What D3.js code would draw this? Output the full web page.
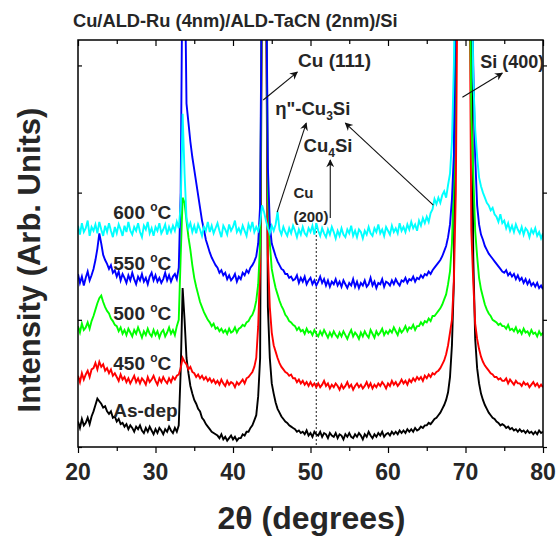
<!DOCTYPE html>
<meta charset="utf-8">
<head>
<style>
body { margin: 0; background: #fff; }
svg text { font-family: "Liberation Sans", Arial, sans-serif; font-weight: bold; fill: #262626; }
.trace { fill: none; stroke-width: 1.9; }
.axis path { display: none; }
.axis line { stroke: #000; stroke-width: 1.2; }
.frame { fill: none; stroke: #000; stroke-width: 1.5; }
.note { stroke: #111; stroke-width: 1.1; fill: none; }
</style>
</head>
<body>
<script src="https://cdn.jsdelivr.net/npm/d3@7"></script>
<script>

// XRD scan, 2theta from 20 to 80 deg in 0.25 deg steps (241 points per pattern)
var scanStart = 20, scanStep = 0.25;

// intensities (arb. units, offset patterns already stacked)
var asDep = [
20,15,22,17, 19,23,18,24, 28,33,38,36, 34,31,32,28, 26,28,23,24,   // 20-24
20,22,18,19, 16,18,14,17, 15,12,16,14, 17,13,11,15, 12,16,13,10,   // 25-29
14,11,15,13, 10,14,12,16, 13,11,15,12, 17,60,125,100, 70,58,48,42, // 30-34
37,34,30,28, 23,21,18,16, 14,12,11,10, 9,7,10,6, 8,5,7,9,          // 35-39
6,8,5,7, 7,10,9,12, 12,15,17,21, 25,40,70,400, 400,400,110,70,     // 40-44
50,42,35,30, 27,24,22,20, 19,17,16,15, 14,12,13,11, 12,10,13,9,    // 45-49
11,8,12,10, 9,12,8,11, 10,7,11,9, 8,11,7,10, 9,6,10,8,             // 50-54
11,8,7,10, 8,11,9,6, 10,8,12,9, 7,10,8,11, 9,12,8,10,              // 55-59
11,9,12,10, 12,10,13,11, 13,11,14,12, 14,12,15,13, 14,16,15,17,    // 60-64
17,19,18,20, 22,23,25,27, 30,33,37,43, 55,80,130,400, 400,400,400,400, // 65-69
400,400,400,400, 150,85,62,50, 42,37,33,30, 27,25,23,22, 20,19,17,18,  // 70-74
17,15,16,14, 15,13,14,12, 14,12,13,11, 13,11,12,10, 12,10,13,11,   // 75-79
12                                                                  // 80
];

var t450 = [
56,51,58,53, 57,60,55,61, 62,66,61,67, 63,65,60,62, 58,61,56,58,
55,52,57,53, 55,51,54,50, 53,56,51,54, 50,54,52,49, 55,51,53,56,
52,49,54,51, 55,52,50,54, 51,55,53,56, 57,62,70,67, 65,61,63,59,
58,55,57,54, 56,53,55,52, 54,51,53,50, 52,49,53,50, 48,52,49,51,
50,47,51,49, 51,53,50,54, 55,57,59,63, 70,95,140,400, 400,400,150,110,
90,80,75,70, 66,63,61,59, 58,56,57,54, 54,51,53,50, 52,49,51,48,
51,48,50,47, 50,47,49,52, 48,50,46,49, 47,50,48,45, 49,46,48,51,
47,49,45,48, 50,47,49,46, 48,51,47,50, 46,49,47,50, 48,51,49,46,
50,48,52,49, 51,48,50,53, 50,52,49,53, 51,54,52,55, 53,55,52,56,
54,57,55,58, 57,59,60,62, 65,68,73,80, 90,100,130,200, 400,400,400,400,
400,400,400,170, 130,97,85,77, 71,67,64,62, 60,58,57,55, 55,53,54,52,
52,54,50,53, 51,49,52,50, 50,48,51,49, 50,47,49,51, 48,50,47,49,
47
];

var t500 = [
95,90,97,92, 94,98,93,99, 103,108,113,117, 119,114,110,107, 105,101,99,96,
95,91,94,89, 92,88,93,90, 87,92,89,94, 90,86,91,88, 93,89,87,92,
88,91,86,90, 92,87,90,94, 89,92,88,95, 100,150,196,192, 178,165,155,143,
133,126,120,114, 110,106,103,100, 98,95,97,93, 94,91,93,90, 92,89,93,90,
91,94,90,93, 94,96,95,98, 99,102,104,108, 115,128,160,400, 400,400,200,160,
140,132,125,120, 115,111,108,104, 102,99,98,96, 95,92,94,91, 92,89,93,90,
91,88,92,89, 87,91,88,92, 89,86,90,87, 91,88,86,90, 87,91,88,85,
89,92,87,90, 88,85,90,87, 91,88,86,92, 89,86,91,88, 90,93,88,91,
89,92,90,94, 91,88,93,90, 92,95,91,94, 93,96,92,95, 95,98,96,99,
98,101,99,103, 103,105,107,109, 112,116,120,128, 138,160,210,400, 400,400,400,400,
400,400,400,260, 215,170,150,133, 124,118,112,108, 105,103,100,99, 98,96,97,95,
95,93,96,92, 93,91,94,90, 92,89,93,90, 91,88,92,89, 90,87,91,88,
90
];

var t550 = [
136,129,134,127, 133,138,131,135, 140,147,156,168, 160,151,147,144, 140,143,137,139,
134,138,131,136, 133,129,135,131, 137,132,128,134, 131,136,130,133, 128,134,137,131,
135,130,133,129, 132,137,131,135, 130,134,136,132, 141,200,400,400, 270,255,240,228,
218,208,198,188, 178,171,163,158, 153,149,146,143, 141,137,139,135, 137,132,135,131,
133,136,130,134, 132,137,135,139, 137,141,143,146, 150,160,190,400, 400,400,220,175,
160,155,150,146, 143,140,139,136, 136,133,134,131, 132,135,129,133, 130,134,128,131,
133,128,131,127, 130,134,129,132, 127,131,126,130, 128,132,127,130, 126,131,128,125,
129,127,132,126, 130,125,129,127, 131,126,128,133, 127,130,125,129, 128,132,126,130,
129,127,131,128, 132,129,127,131, 130,133,129,132, 131,134,130,133, 132,135,133,136,
135,138,136,139, 141,143,145,147, 150,154,158,165, 175,195,230,400, 400,400,400,400,
400,400,400,400, 300,228,190,175, 167,163,158,155, 152,150,148,146, 144,142,140,138,
137,139,135,137, 134,136,132,135, 131,133,129,132, 128,131,127,129, 126,129,125,127,
124
];

var t600 = [
174,167,176,169, 172,178,166,173, 170,175,168,177, 171,166,174,169, 176,170,165,173,
168,175,171,166, 174,169,177,170, 167,173,170,176, 169,165,174,171, 177,168,172,166,
173,170,176,168, 171,175,167,173, 169,174,170,177, 172,190,262,215, 180,172,176,169,
174,168,175,171, 166,173,170,177, 169,174,168,172, 176,170,165,174, 171,167,175,170,
173,178,169,172, 168,174,170,166, 175,171,177,169, 173,170,176,190, 185,178,172,168,
174,170,175,185, 171,167,173,169, 166,172,168,174, 170,165,171,167, 173,168,166,172,
169,174,167,176, 170,166,172,168, 165,171,167,173, 169,164,170,166, 172,167,165,171,
168,174,166,170, 165,171,169,164, 170,167,173,168, 166,172,169,175, 168,171,166,173,
170,167,174,169, 172,168,176,170, 173,169,175,171, 177,172,175,170, 178,174,180,176,
181,177,184,187, 195,191,196,192, 198,201,196,206, 215,240,300,400, 400,400,400,400,
400,400,400,400, 290,250,228,212, 205,200,196,192, 190,186,188,183, 181,177,183,176,
178,172,176,170, 174,169,175,171, 168,173,167,172, 170,165,171,168, 172,166,169,164,
168
];

var patterns = [asDep, t450, t500, t550, t600];
var patternColors = ["#000000", "#ff0000", "#00ff00", "#0000ff", "#00ffff"];
var patternLabels = ["As-dep", "450", "500", "550", "600"];
var labelLevels = [23.6, 60.5, 100, 139, 179];   // baseline of each label, in intensity units

var xTicks = [20, 30, 40, 50, 60, 70, 80];
var xMinor = [25, 35, 45, 55, 65, 75];
var yTicks = [0, 100, 200, 300];

var W = 558, H = 537;
var plotL = 78, plotR = 543, plotT = 40, plotB = 447;

var svg = d3.select("body").append("svg")
    .attr("width", W)
    .attr("height", H);

var x = d3.scaleLinear().domain([20, 80]).range([plotL, plotR]);
var y = d3.scaleLinear().domain([0, 320]).range([plotB, plotT]);

var defs = svg.append("defs");
defs.append("clipPath")
    .attr("id", "plotclip")
  .append("rect")
    .attr("x", plotL).attr("y", plotT)
    .attr("width", plotR - plotL).attr("height", plotB - plotT);

var arrow = defs.append("marker")
    .attr("id", "head")
    .attr("viewBox", "0 0 10 10")
    .attr("refX", 9).attr("refY", 5)
    .attr("markerWidth", 10).attr("markerHeight", 8)
    .attr("markerUnits", "userSpaceOnUse")
    .attr("orient", "auto");
arrow.append("path").attr("d", "M0,0 L10,5 L0,10 L3,5 z").attr("fill", "#111");

// dotted guide at Cu(200)
svg.append("line")
    .attr("x1", x(50.75)).attr("x2", x(50.75))
    .attr("y1", y(176)).attr("y2", y(0))
    .attr("stroke", "#000").attr("stroke-width", 1.2)
    .attr("stroke-dasharray", "1.5,2.5");

var line = d3.line()
    .x(function(d, i) { return x(scanStart + i * scanStep); })
    .y(function(d) { return y(d); });

svg.append("g")
    .attr("clip-path", "url(#plotclip)")
  .selectAll("path")
    .data(patterns)
    .enter().append("path")
    .attr("class", "trace")
    .attr("stroke", function(d, i) { return patternColors[i]; })
    .attr("d", line);

// axes: labelled bottom, mirrored ticks elsewhere
svg.append("g").attr("class", "axis")
    .attr("transform", "translate(0," + plotB + ")")
    .call(d3.axisBottom(x).tickValues(xTicks).tickSize(6).tickFormat(""));
svg.append("g").attr("class", "axis")
    .attr("transform", "translate(0," + plotB + ")")
    .call(d3.axisBottom(x).tickValues(xMinor).tickSize(4).tickFormat(""));
svg.append("g").attr("class", "axis")
    .attr("transform", "translate(0," + plotT + ")")
    .call(d3.axisTop(x).tickValues(xTicks).tickSize(-6).tickFormat(""));
svg.append("g").attr("class", "axis")
    .attr("transform", "translate(0," + plotT + ")")
    .call(d3.axisTop(x).tickValues(xMinor).tickSize(-4).tickFormat(""));
svg.append("g").attr("class", "axis")
    .attr("transform", "translate(" + plotL + ",0)")
    .call(d3.axisLeft(y).tickValues(yTicks).tickSize(-4).tickFormat(""));
svg.append("g").attr("class", "axis")
    .attr("transform", "translate(" + plotR + ",0)")
    .call(d3.axisRight(y).tickValues(yTicks).tickSize(4).tickFormat(""));

svg.append("rect").attr("class", "frame")
    .attr("x", plotL).attr("y", plotT)
    .attr("width", plotR - plotL).attr("height", plotB - plotT);

svg.selectAll(".xlab")
    .data(xTicks)
    .enter().append("text")
    .attr("class", "xlab")
    .attr("x", function(d) { return x(d); })
    .attr("y", 480)
    .attr("text-anchor", "middle")
    .attr("font-size", 23)
    .text(function(d) { return d; });

svg.append("text")
    .attr("x", (plotL + plotR) / 2 + 1)
    .attr("y", 529)
    .attr("text-anchor", "middle")
    .attr("font-size", 32)
    .text("2θ (degrees)");

svg.append("text")
    .attr("transform", "translate(40," + 260 + ") rotate(-90)")
    .attr("text-anchor", "middle")
    .attr("font-size", 31)
    .text("Intensity (Arb. Units)");

svg.append("text")
    .attr("x", 73)
    .attr("y", 27)
    .attr("font-size", 18.3)
    .text("Cu/ALD-Ru (4nm)/ALD-TaCN (2nm)/Si");

// temperature labels
patternLabels.forEach(function(lab, i) {
    var t = svg.append("text")
        .attr("x", x(24.55))
        .attr("y", y(labelLevels[i]))
        .attr("font-size", 19);
    if (lab == "As-dep") { t.text(lab); return; }
    t.append("tspan").text(lab + " ");
    t.append("tspan").attr("font-size", 12).attr("dy", -8).text("o");
    t.append("tspan").attr("dy", 8).text("C");
});

// peak annotations
function note(x1, y1, x2, y2, color) {
    svg.append("line").attr("class", "note")
        .attr("x1", x(x1)).attr("y1", y(y1))
        .attr("x2", x(x2)).attr("y2", y(y2))
        .attr("stroke", color || "#111")
        .attr("marker-end", "url(#head)");
}

svg.append("text").attr("x", x(48.4)).attr("y", y(298.7)).attr("font-size", 19).text("Cu (111)");
note(43.9, 272.8, 48.3, 294.8);

var eta = svg.append("text").attr("x", x(45.45)).attr("y", y(261)).attr("font-size", 18.5);
eta.append("tspan").text("η\"-Cu");
eta.append("tspan").attr("font-size", 12).attr("dy", 5).text("3");
eta.append("tspan").attr("dy", -5).text("Si");
note(45.7, 184.7, 49.45, 254.7);
note(65.85, 190.2, 54.5, 254.7);

var cu4 = svg.append("text").attr("x", x(49.1)).attr("y", y(232)).attr("font-size", 18.5);
cu4.append("tspan").text("Cu");
cu4.append("tspan").attr("font-size", 12).attr("dy", 5).text("4");
cu4.append("tspan").attr("dy", -5).text("Si");
note(52.55, 180, 52.55, 225.6, "#444");

svg.append("text").attr("x", x(47.8)).attr("y", y(195.8)).attr("font-size", 15).text("Cu");
svg.append("text").attr("x", x(47.8)).attr("y", y(176.9)).attr("font-size", 15).text("(200)");

svg.append("text").attr("x", x(71.9)).attr("y", y(298)).attr("font-size", 18).text("Si (400)");
note(69.6, 275, 74.75, 294);

</script>
</body>
